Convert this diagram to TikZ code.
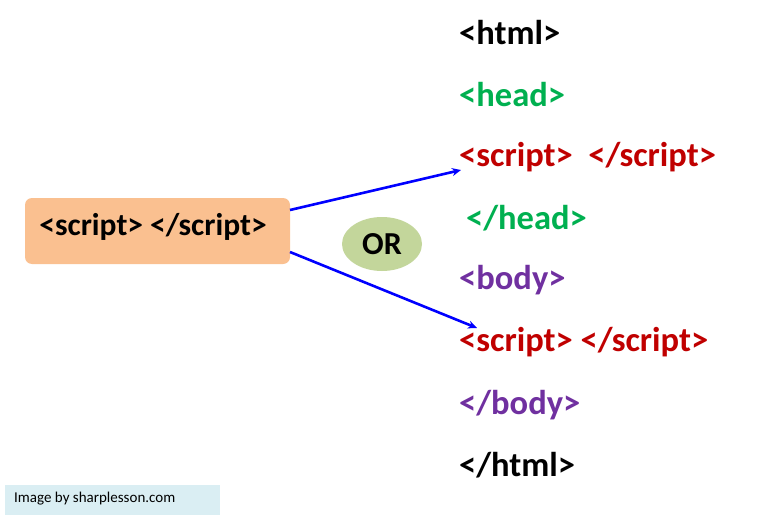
\documentclass[tikz,border=0pt]{standalone}
\usepackage{fontspec}
\setmainfont{Carlito}
\usetikzlibrary{arrows.meta,shapes.geometric}
\definecolor{tgreen}{HTML}{00B050}
\definecolor{tred}{HTML}{C00000}
\definecolor{tpurple}{HTML}{7030A0}
\definecolor{boxc}{HTML}{FAC090}
\definecolor{orc}{HTML}{C3D69B}
\definecolor{wm}{HTML}{DAEEF3}
\begin{document}
\begin{tikzpicture}[x=1pt,y=-1pt,
  tag/.style={anchor=west,font=\fontsize{34.5}{38}\selectfont\bfseries,inner sep=0pt},
  conn/.style={blue,line width=2.6pt,-{Stealth[length=9pt,width=8pt]}}]
\useasboundingbox (0,0) rectangle (765,516);
\fill[white] (0,0) rectangle (765,516);
\node[fill=boxc,rounded corners=7pt,minimum width=265pt,minimum height=66pt,inner sep=0pt] (src) at (157.5,231) {};
\node[inner sep=0pt,font=\fontsize{31.5}{34}\selectfont\bfseries] (srct) at (153,227) {<script> </script>};
\node[ellipse,fill=orc,minimum width=80pt,minimum height=54pt,inner sep=0pt,font=\fontsize{32}{34}\selectfont\bfseries] (or) at (382,244) {OR};
\node[tag] (t1) at (459,33) {<html>};
\node[tag,tgreen] (t2) at (459,95) {<head>};
\node[tag,tred] (t3) at (459,157) {<script>\ \ </script>};
\node[tag,tgreen] (t4) at (466,218) {</head>};
\node[tag,tpurple] (t5) at (459,280) {<body>};
\node[tag,tred] (t6) at (459,342) {<script> </script>};
\node[tag,tpurple] (t7) at (459,405) {</body>};
\node[tag] (t8) at (459,465) {</html>};
\coordinate (a1s) at (290,210);
\coordinate (a1e) at (461,170);
\coordinate (a2s) at (290,252);
\coordinate (a2e) at (477,328);
\draw[conn] (a1s) -- (a1e);
\draw[conn] (a2s) -- (a2e);
\node[fill=wm,minimum width=215pt,minimum height=30pt,inner sep=0pt] (wmbox) at (112.5,500) {};
\node[anchor=west,font=\fontsize{15}{17}\selectfont,inner sep=0pt] (wmt) at (14,499) {Image by sharplesson.com};
\end{tikzpicture}
\end{document}
